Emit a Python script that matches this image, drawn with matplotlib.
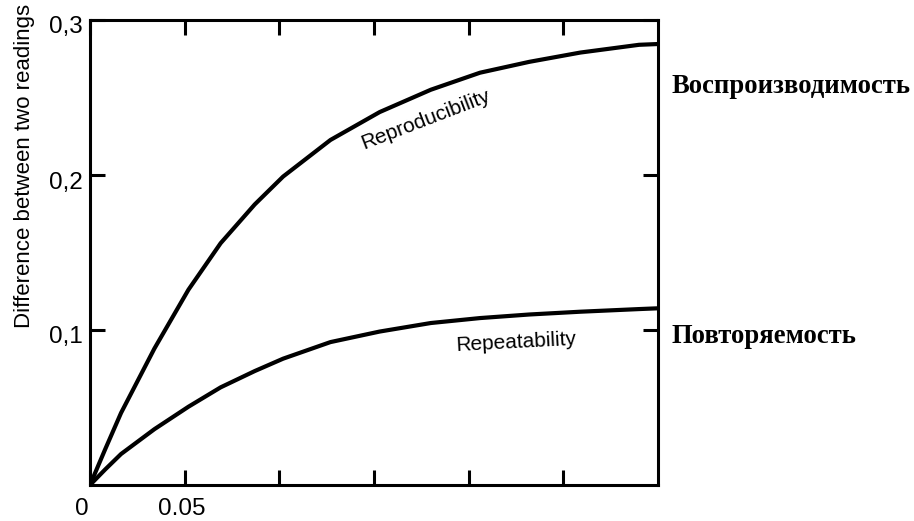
import matplotlib
matplotlib.use("Agg")
import matplotlib.pyplot as plt
from matplotlib.transforms import ScaledTranslation

# Data
repro_x = [0, 0.008, 0.0164, 0.034, 0.052, 0.069, 0.087, 0.102, 0.127, 0.153, 0.180, 0.206, 0.232, 0.259, 0.290, 0.300]
repro_y = [0, 0.0230, 0.0465, 0.088, 0.126, 0.156, 0.181, 0.199, 0.2226, 0.2406, 0.255, 0.266, 0.273, 0.279, 0.284, 0.2845]
repeat_x = [0, 0.008, 0.0164, 0.034, 0.052, 0.069, 0.087, 0.102, 0.127, 0.153, 0.180, 0.206, 0.232, 0.259, 0.290, 0.300]
repeat_y = [0, 0.010, 0.020, 0.036, 0.0505, 0.063, 0.0735, 0.0815, 0.0922, 0.0990, 0.1045, 0.1077, 0.110, 0.1118, 0.1135, 0.114]

x_ticks = [0, 0.05, 0.10, 0.15, 0.20, 0.25]
x_ticklabels = ["0", "0.05", "", "", "", ""]
y_ticks = [0.1, 0.2, 0.3]
y_ticklabels = ["0,1", "0,2", "0,3"]

ylabel = "Difference between two readings"
repro_label = "Reproducibility"
repeat_label = "Repeatability"
repro_ru = "Воспроизводимость"
repeat_ru = "Повторяемость"

W, H = 914, 521
fig = plt.figure(figsize=(W / 100, H / 100), dpi=100)
ax = fig.add_axes([90 / W, 36 / H, 568 / W, 465 / H])

for xs, ys in ((repro_x, repro_y), (repeat_x, repeat_y)):
    ax.plot(xs, ys, color="black", lw=3.0, solid_capstyle="round", solid_joinstyle="round")

ax.set_xlim(0, 0.30)
ax.set_ylim(0, 0.30)
for s in ax.spines.values():
    s.set_linewidth(2.2)

ax.set_xticks(x_ticks)
ax.set_xticklabels(x_ticklabels)
ax.set_yticks(y_ticks)
ax.set_yticklabels(y_ticklabels)
ax.tick_params(which="both", direction="in", top=True, right=True, length=11, width=2.2,
               labelsize=17.5)
ax.tick_params(axis="x", pad=9.5)
ax.tick_params(axis="y", pad=5)

for lab in ax.get_yticklabels():
    lab.set_family("Liberation Sans")
    lab.set_transform(lab.get_transform() + ScaledTranslation(0, -0.05, fig.dpi_scale_trans))
for i, lab in enumerate(ax.get_xticklabels()):
    lab.set_family("Liberation Sans")
    if i == 0:
        lab.set_transform(lab.get_transform() + ScaledTranslation(-0.08, 0, fig.dpi_scale_trans))
    elif i == 1:
        lab.set_transform(lab.get_transform() + ScaledTranslation(-0.03, 0, fig.dpi_scale_trans))

fig.text(25 / W, 1 - 166 / H, ylabel, rotation=90, fontsize=16, family="Liberation Sans",
         ha="center", va="center")

ax.text(0.1775, 0.2355, repro_label, rotation=21, fontsize=15, family="Liberation Sans",
        ha="center", va="center")
ax.text(0.225, 0.0923, repeat_label, rotation=3, fontsize=15, family="Liberation Sans",
        ha="center", va="center")

fig.text(672 / W, 1 - 93 / H, repro_ru, fontsize=19.2, family="Liberation Serif",
         fontweight="bold", ha="left", va="baseline")
fig.text(672 / W, 1 - 343 / H, repeat_ru, fontsize=19.2, family="Liberation Serif",
         fontweight="bold", ha="left", va="baseline")

fig.savefig("out.png", dpi=100)
